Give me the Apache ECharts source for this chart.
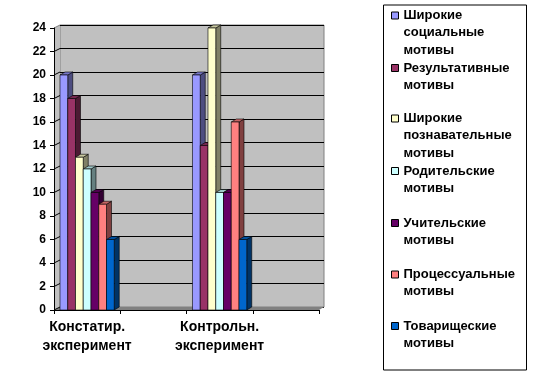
<!DOCTYPE html>
<html>
<head>
<meta charset="utf-8">
<script src="https://cdn.jsdelivr.net/npm/echarts@6/dist/echarts.min.js"></script>
<style>
html,body{margin:0;padding:0;background:#fff;}
#chart{width:536px;height:375px;}
</style>
</head>
<body>
<div id="chart"></div>
<script>
// ---- data ----
const categories = ['Констатир.\nэксперимент', '', 'Контрольн.\nэксперимент', ''];
const seriesNames = [
  'Широкие социальные мотивы',
  'Результативные мотивы',
  'Широкие познавательные мотивы',
  'Родительские мотивы',
  'Учительские мотивы',
  'Процессуальные мотивы',
  'Товарищеские мотивы'
];
const socialValues      = [20, null, 20, null];
const resultValues      = [18, null, 14, null];
const cognitiveValues   = [13, null, 24, null];
const parentValues      = [12, null, 10, null];
const teacherValues     = [10, null, 10, null];
const processValues     = [9,  null, 16, null];
const friendValues      = [6,  null, 6,  null];
const allValues = [socialValues, resultValues, cognitiveValues, parentValues, teacherValues, processValues, friendValues];
const yMin = 0, yMax = 24, yStep = 2;

// ---- styling ----
const colors = ['#9999FF', '#993366', '#FFFFCC', '#CCFFFF', '#660066', '#FF8080', '#0066CC'];
const FONT = "'Liberation Sans', Arial, sans-serif";
const DX = 5, DY = 3;            // 3D depth offset
const BAR_FRAC = 0.117;          // bar width as fraction of category band

function shade(hex, k) {
  const n = parseInt(hex.slice(1), 16);
  const r = Math.round(((n >> 16) & 255) * k);
  const g = Math.round(((n >> 8) & 255) * k);
  const b = Math.round((n & 255) * k);
  return 'rgb(' + r + ',' + g + ',' + b + ')';
}

function makeRender(si) {
  return function (params, api) {
    const v = api.value(1);
    if (v == null || isNaN(v)) return;
    const cat = api.value(0);
    const bandW = api.size([1, 0])[0];
    const bw = bandW * BAR_FRAC;
    const base = api.coord([cat, 0]);
    const top = api.coord([cat, v]);
    const x0 = base[0] + (si - 3.5) * bw;
    const x1 = x0 + bw;
    const yb = base[1], yt = top[1];
    const c = colors[si];
    const stroke = { stroke: '#000', lineWidth: 0.6 };
    return {
      type: 'group',
      children: [
        { type: 'polygon', shape: { points: [[x1, yt], [x1 + DX, yt - DY], [x1 + DX, yb - DY], [x1, yb]] },
          style: Object.assign({ fill: shade(c, 0.5) }, stroke) },
        { type: 'polygon', shape: { points: [[x0, yt], [x0 + DX, yt - DY], [x1 + DX, yt - DY], [x1, yt]] },
          style: Object.assign({ fill: shade(c, 0.78) }, stroke) },
        { type: 'rect', shape: { x: x0, y: yt, width: bw, height: yb - yt },
          style: Object.assign({ fill: c }, stroke) }
      ]
    };
  };
}

const series = seriesNames.map(function (name, si) {
  const data = [];
  allValues[si].forEach(function (v, ci) { data.push([ci, v]); });
  return {
    type: 'custom',
    name: name,
    coordinateSystem: 'cartesian2d',
    xAxisIndex: 1,
    yAxisIndex: 1,
    itemStyle: { color: colors[si] },
    encode: { x: 0, y: 1 },
    renderItem: makeRender(si),
    data: data,
    z: 3
  };
});

// legend: one component per item so that spacing is even like the original
const LH = 17.3;
const legendFirstLine = [15.5, 68, 118.5, 171, 223, 274.5, 326];
const legends = seriesNames.map(function (name, i) {
  const lines = name.split(' ');
  const n = lines.length;
  const pad = new Array(n).join('\n');
  return {
    data: [name],
    orient: 'vertical',
    left: 391,
    top: legendFirstLine[i] - (2 * n - 1) * LH / 2,
    padding: 0,
    itemWidth: 7,
    itemHeight: 7,
    icon: 'rect',
    selectedMode: false,
    itemStyle: { borderColor: '#000', borderWidth: 1 },
    textStyle: { fontFamily: FONT, fontWeight: 'bold', fontSize: 13, color: '#000', lineHeight: LH },
    formatter: function (nm) { return pad + nm.split(' ').join('\n'); }
  };
});

const chart = echarts.init(document.getElementById('chart'), null, { renderer: 'canvas' });

const option = {
  animation: false,
  backgroundColor: '#fff',
  color: colors,
  legend: legends,
  grid: [
    { left: 60, top: 25, width: 264, height: 282, show: true, backgroundColor: '#C0C0C0', borderColor: '#808080', borderWidth: 1 },
    { left: 54, top: 28, width: 265, height: 282, show: false }
  ],
  xAxis: [
    { type: 'category', gridIndex: 0, data: categories, show: false },
    { type: 'category', gridIndex: 1, data: categories, boundaryGap: true,
      axisLine: { show: true, lineStyle: { color: '#000', width: 1 } },
      axisTick: { show: true, interval: 0, length: 4, lineStyle: { color: '#000' } },
      axisLabel: { interval: 0, margin: 8, fontFamily: FONT, fontWeight: 'bold', fontSize: 14, lineHeight: 19, color: '#000' },
      splitLine: { show: false }, z: 5 }
  ],
  yAxis: [
    { type: 'value', gridIndex: 0, min: yMin, max: yMax, interval: yStep,
      axisLine: { show: false }, axisTick: { show: false }, axisLabel: { show: false },
      splitLine: { show: true, lineStyle: { color: '#000', width: 1 } } },
    { type: 'value', gridIndex: 1, min: yMin, max: yMax, interval: yStep,
      axisLine: { show: true, lineStyle: { color: '#000', width: 1 } },
      axisTick: { show: true, length: 4, lineStyle: { color: '#000' } },
      axisLabel: { margin: 8, fontFamily: FONT, fontWeight: 'bold', fontSize: 12, color: '#000' },
      splitLine: { show: false }, z: 5 }
  ],
  series: series
};
chart.setOption(option);

// walls, floor and tick connectors derived from the axes
const p0 = chart.convertToPixel({ xAxisIndex: 1, yAxisIndex: 1 }, [0, yMin]);
const pTop = chart.convertToPixel({ yAxisIndex: 1 }, yMax);
const xLeft = 54, xRight = 54 + 265;
const yBase = p0[1];
const gfx = [];
gfx.push({ type: 'polygon', z: 1, shape: { points: [[xLeft, yBase], [xLeft, pTop], [xLeft + DX + 1, pTop - DY], [xLeft + DX + 1, yBase - DY]] },
  style: { fill: '#C0C0C0', stroke: null } });
gfx.push({ type: 'polygon', z: 1, shape: { points: [[xLeft, yBase], [xRight, yBase], [xRight + DX, yBase - DY], [xLeft + DX + 1, yBase - DY]] },
  style: { fill: '#808080', stroke: null } });
for (let v = yMin; v <= yMax; v += yStep) {
  const y = chart.convertToPixel({ yAxisIndex: 1 }, v);
  gfx.push({ type: 'line', z: 1, shape: { x1: xLeft, y1: y, x2: xLeft + DX + 1, y2: y - DY },
    style: { stroke: v === yMax ? '#808080' : '#000', lineWidth: 1 } });
}
gfx.push({ type: 'rect', z: 1, shape: { x: 383.5, y: 5, width: 143, height: 365 },
  style: { fill: null, stroke: '#000', lineWidth: 1 } });
chart.setOption({ graphic: gfx });
</script>
</body>
</html>
